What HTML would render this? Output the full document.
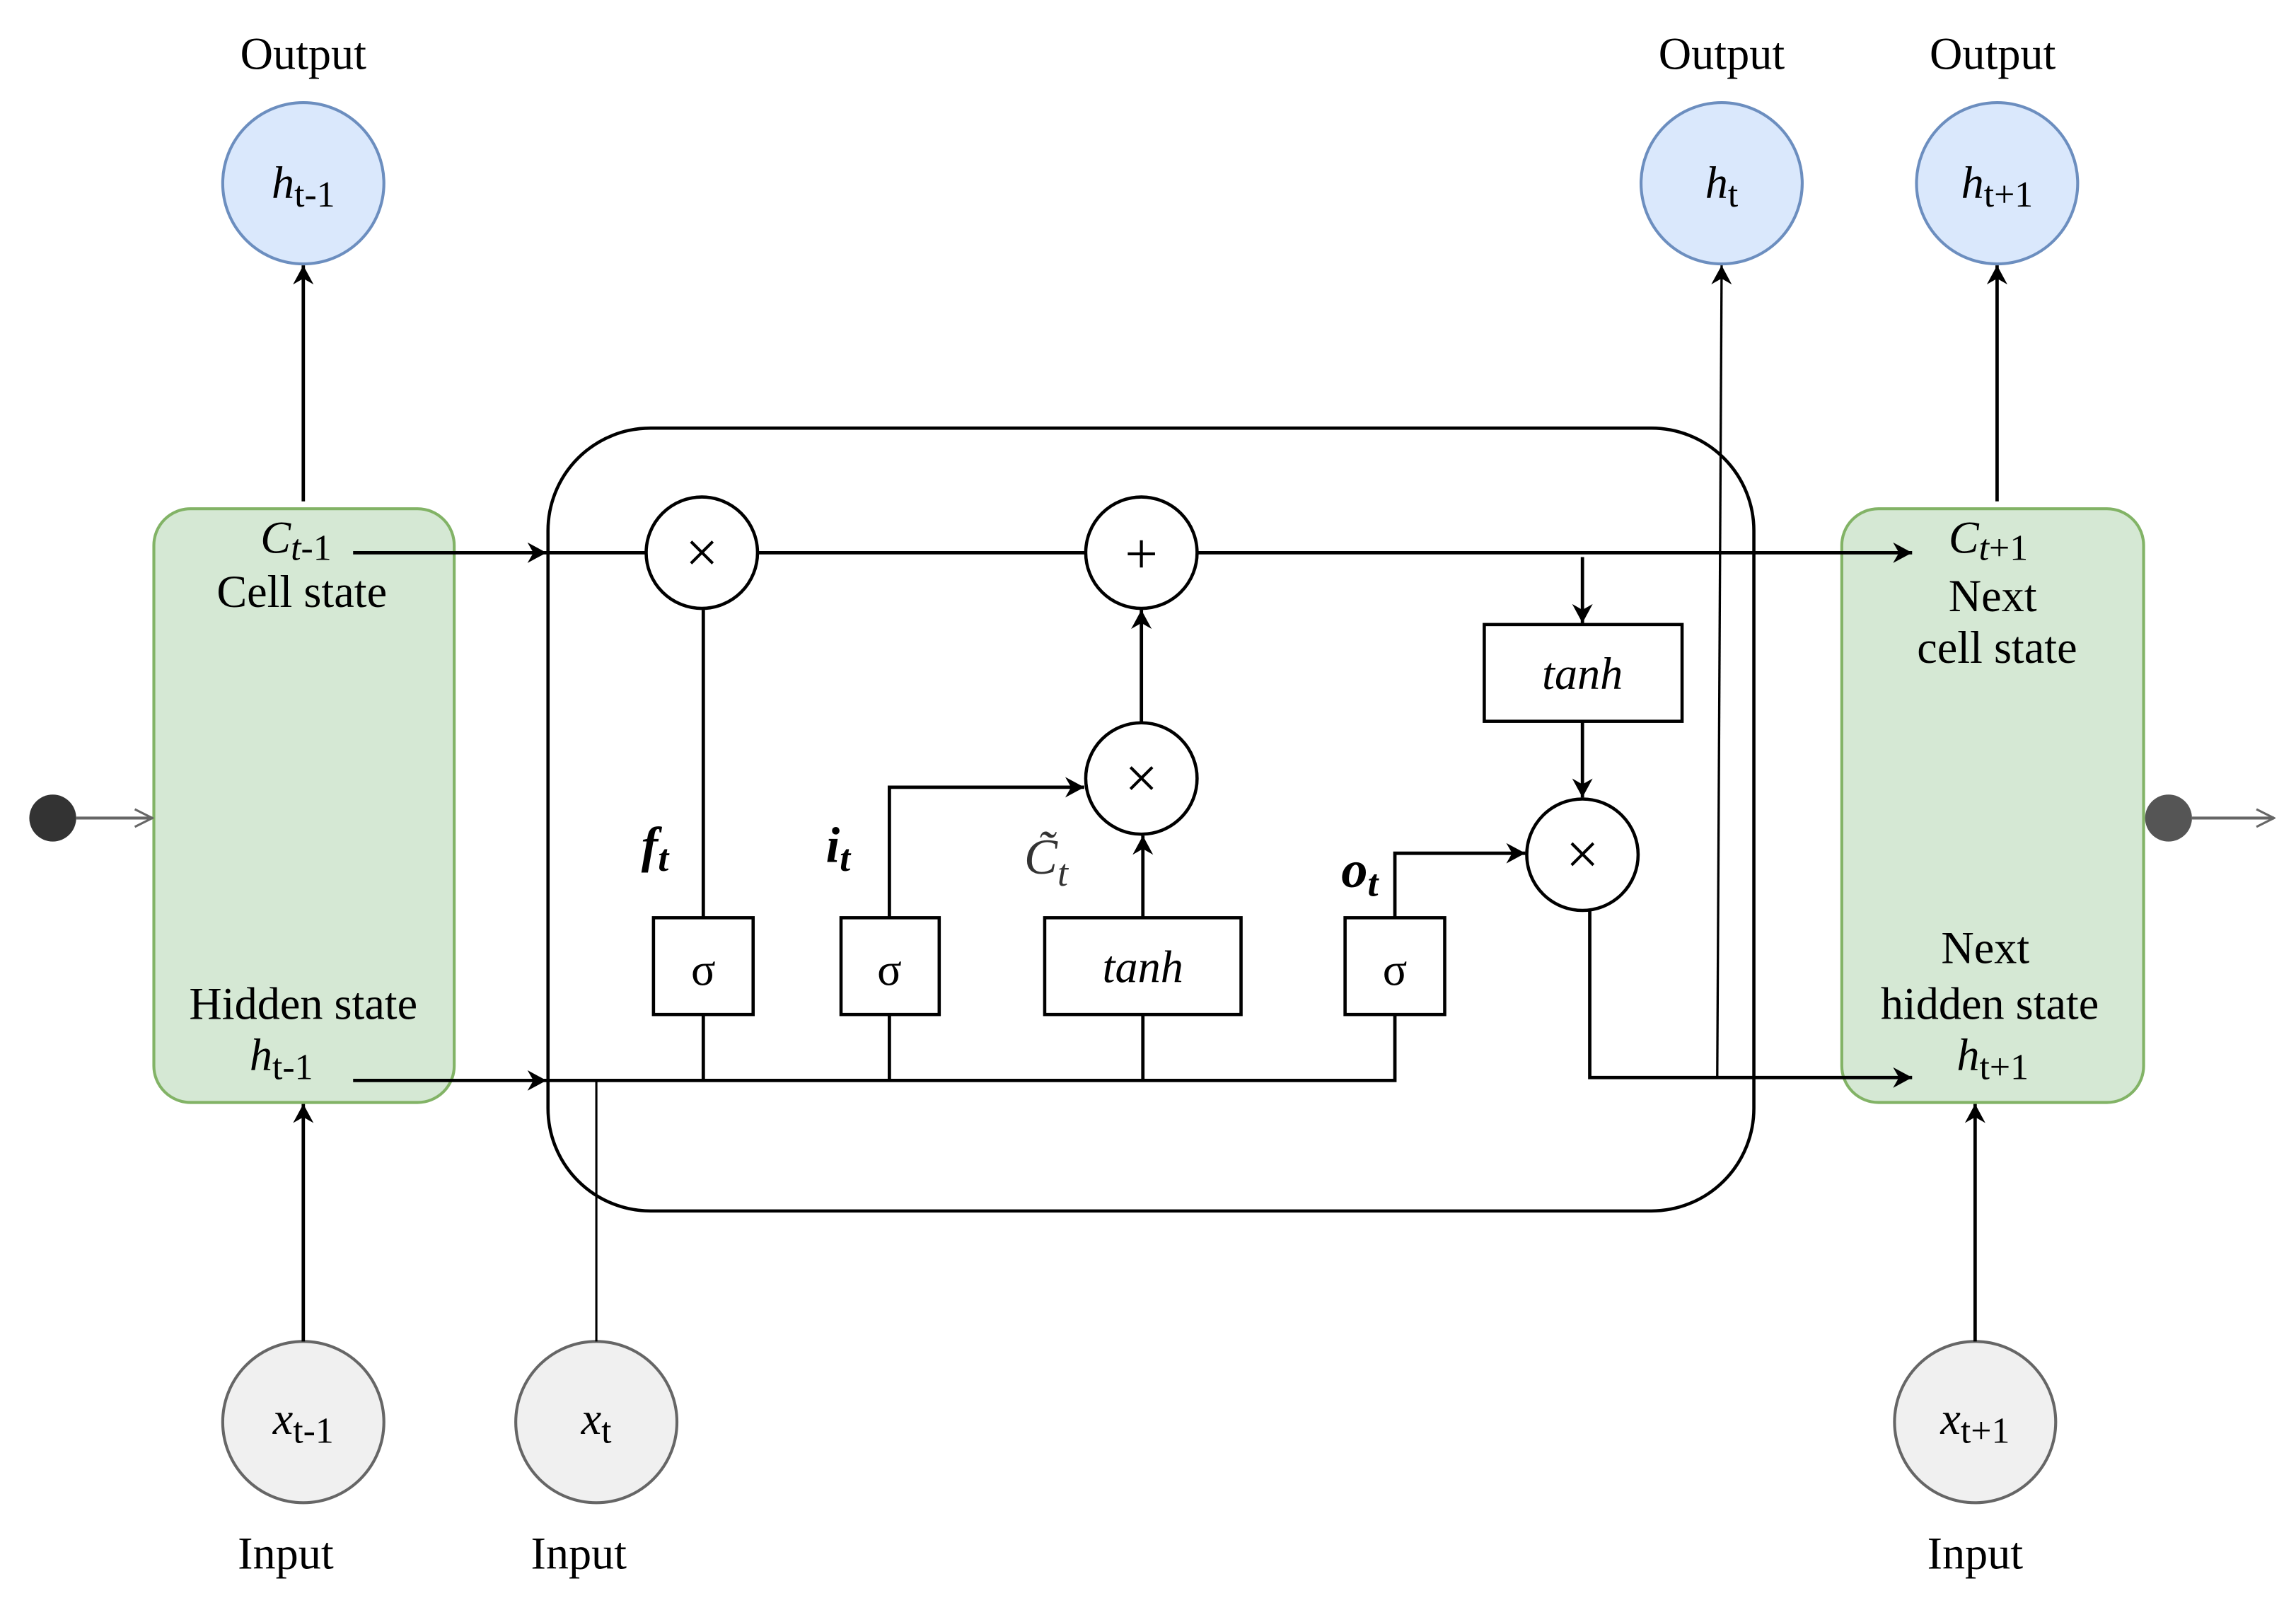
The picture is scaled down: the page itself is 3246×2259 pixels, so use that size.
<!DOCTYPE html>
<html><head><meta charset="utf-8"><style>html,body{margin:0;padding:0;background:#fff}svg{display:block}</style></head>
<body>
<svg width="3246" height="2259" viewBox="0 0 1567 1090" preserveAspectRatio="none" xmlns="http://www.w3.org/2000/svg" font-family="'Liberation Serif', serif">
<defs>
<marker id="b" markerWidth="14" markerHeight="14" refX="13" refY="7" orient="auto" markerUnits="userSpaceOnUse"><path d="M0,0 L13,7 L0,14 L4,7 z" fill="#000"/></marker>
<marker id="o" markerWidth="14" markerHeight="14" refX="13" refY="7" orient="auto" markerUnits="userSpaceOnUse"><path d="M1,1 L13,7 L1,13" fill="none" stroke="#666" stroke-width="1.5"/></marker>
</defs>
<g font-size="31" text-anchor="middle">
<text x="207" y="47">Output</text><text x="1175" y="47">Output</text><text x="1360" y="47">Output</text>
<text x="195" y="1070">Input</text><text x="395" y="1070">Input</text><text x="1348" y="1070">Input</text>
</g>
<g fill="#dae8fc" stroke="#6c8ebf" stroke-width="2">
<circle cx="207" cy="125" r="55"/><circle cx="1175" cy="125" r="55"/><circle cx="1363" cy="125" r="55"/>
</g>
<g fill="#f0f0f0" stroke="#666" stroke-width="2">
<circle cx="207" cy="970" r="55"/><circle cx="407" cy="970" r="55"/><circle cx="1348" cy="970" r="55"/>
</g>
<g font-size="31" text-anchor="middle">
<text x="207" y="135"><tspan font-style="italic">h</tspan><tspan font-size="25" dy="6">t-1</tspan></text>
<text x="1175" y="135"><tspan font-style="italic">h</tspan><tspan font-size="25" dy="6">t</tspan></text>
<text x="1363" y="135"><tspan font-style="italic">h</tspan><tspan font-size="25" dy="6">t+1</tspan></text>
<text x="207" y="978"><tspan font-style="italic">x</tspan><tspan font-size="25" dy="6">t-1</tspan></text>
<text x="407" y="978"><tspan font-style="italic">x</tspan><tspan font-size="25" dy="6">t</tspan></text>
<text x="1348" y="978"><tspan font-style="italic">x</tspan><tspan font-size="25" dy="6">t+1</tspan></text>
</g>
<g fill="#d5e8d4" stroke="#82b366" stroke-width="2">
<rect x="105" y="347" width="205" height="405" rx="25"/>
<rect x="1257" y="347" width="206" height="405" rx="25"/>
</g>
<rect x="374" y="292" width="823" height="534" rx="70" fill="none" stroke="#000" stroke-width="2.2"/>
<g stroke="#000" stroke-width="2.3" fill="none">
<line x1="241" y1="377" x2="373" y2="377" marker-end="url(#b)"/>
<line x1="374" y1="377" x2="441" y2="377"/>
<line x1="518" y1="377" x2="741" y2="377"/>
<line x1="818" y1="377" x2="1305" y2="377" marker-end="url(#b)"/>
<line x1="241" y1="737" x2="373" y2="737" marker-end="url(#b)"/>
<polyline points="374,737 952,737 952,692"/>
<line x1="407" y1="915" x2="407" y2="737" stroke-width="1.5"/>
<line x1="207" y1="342" x2="207" y2="181" marker-end="url(#b)"/>
<line x1="207" y1="915" x2="207" y2="753" marker-end="url(#b)"/>
<line x1="480" y1="737" x2="480" y2="692"/><line x1="607" y1="737" x2="607" y2="692"/><line x1="780" y1="737" x2="780" y2="692"/>
<line x1="480" y1="626" x2="480" y2="416"/>
<polyline points="607,626 607,537 740,537" marker-end="url(#b)"/>
<line x1="780" y1="626" x2="780" y2="570" marker-end="url(#b)"/>
<line x1="779" y1="493" x2="779" y2="416" marker-end="url(#b)"/>
<polyline points="952,626 952,582 1041,582" marker-end="url(#b)"/>
<line x1="1080" y1="380" x2="1080" y2="425" marker-end="url(#b)"/>
<line x1="1080" y1="492" x2="1080" y2="544" marker-end="url(#b)"/>
<polyline points="1085,621 1085,735 1305,735" marker-end="url(#b)"/>
<line x1="1172" y1="735" x2="1175" y2="181" marker-end="url(#b)" stroke-width="1.6"/>
<line x1="1363" y1="342" x2="1363" y2="181" marker-end="url(#b)"/>
<line x1="1348" y1="915" x2="1348" y2="753" marker-end="url(#b)"/>
</g>
<g fill="#fff" stroke="#000" stroke-width="2.2">
<circle cx="479" cy="377" r="38"/><circle cx="779" cy="377" r="38"/><circle cx="779" cy="531" r="38"/><circle cx="1080" cy="583" r="38"/>
<rect x="446" y="626" width="68" height="66"/><rect x="574" y="626" width="67" height="66"/>
<rect x="713" y="626" width="134" height="66"/><rect x="918" y="626" width="68" height="66"/>
<rect x="1013" y="426" width="135" height="66"/>
</g>
<g font-size="31" text-anchor="middle">
<text x="479" y="390" font-size="40">×</text><text x="779" y="391" font-size="40">+</text><text x="779" y="544" font-size="40">×</text><text x="1080" y="596" font-size="40">×</text>
<text x="480" y="672">σ</text><text x="607" y="672">σ</text><text x="952" y="672">σ</text>
<text x="780" y="670" font-style="italic">tanh</text><text x="1080" y="470" font-style="italic">tanh</text>
<text x="447" y="588" font-weight="bold" font-style="italic" font-size="34">f<tspan font-size="26" dy="6">t</tspan></text>
<text x="572" y="588" font-weight="bold" font-style="italic" font-size="34">i<tspan font-size="26" dy="6">t</tspan></text>
<text x="714" y="596" font-style="italic" fill="#333" font-size="34">C̃<tspan font-size="26" dy="8">t</tspan></text>
<text x="928" y="605" font-weight="bold" font-style="italic" font-size="36">o<tspan font-size="26" dy="6">t</tspan></text>
<text x="202" y="377"><tspan font-style="italic">C</tspan><tspan font-size="25" dy="5" font-style="italic">t</tspan><tspan font-size="25">-1</tspan></text>
<text x="206" y="414">Cell state</text>
<text x="207" y="695">Hidden state</text>
<text x="192" y="730"><tspan font-style="italic">h</tspan><tspan font-size="25" dy="6">t-1</tspan></text>
<text x="1357" y="377"><tspan font-style="italic">C</tspan><tspan font-size="25" dy="5" font-style="italic">t</tspan><tspan font-size="25">+1</tspan></text>
<text x="1360" y="417">Next</text><text x="1363" y="452">cell state</text>
<text x="1355" y="657">Next</text><text x="1358" y="695">hidden state</text>
<text x="1360" y="730"><tspan font-style="italic">h</tspan><tspan font-size="25" dy="6">t+1</tspan></text>
</g>
<circle cx="36" cy="558" r="16" fill="#333"/>
<line x1="52" y1="558" x2="104" y2="558" stroke="#666" stroke-width="2" marker-end="url(#o)"/>
<circle cx="1480" cy="558" r="16" fill="#555"/>
<line x1="1496" y1="558" x2="1552" y2="558" stroke="#666" stroke-width="2" marker-end="url(#o)"/>
</svg>
</body></html>
